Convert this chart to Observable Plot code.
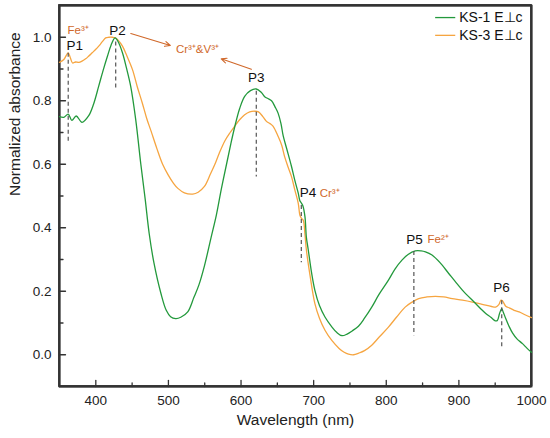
<!DOCTYPE html>
<html>
<head>
<meta charset="utf-8">
<script src="https://cdn.jsdelivr.net/npm/d3@7"></script>
<script src="https://cdn.jsdelivr.net/npm/@observablehq/plot@0.6"></script>
<style>
  html, body { margin: 0; padding: 0; background: #fff; }
  #chart { width: 550px; height: 438px; }
</style>
</head>
<body>
<div id="chart"></div>
<script>
// ---- data ----
const ks1Wavelength = [350,356,362,367,373,381,390,397,404,410,416,421,426.5,431,436.7,442,448,455,462,468,473.5,480,489.7,497,503,510,517,526.6,535,542,549.6,558.8,566,572.7,580,586,591,598,605,613,621,628,633,637,642,647,651,655,658,663,669.5,674,678.8,681,683,685,688,690,692.6,697,701.7,708,715.6,725,732,739,746,753,761.7,770,780,790,803,812,821.6,830,840,848,854,863,874,886,897,907,921,930,937,944,950,953,956,959,961,964.5,969,974,980,987.6,994,1000];
const ks1Absorb = [0.75,0.748,0.758,0.738,0.752,0.732,0.752,0.79,0.846,0.895,0.94,0.975,0.998,0.985,0.951,0.905,0.846,0.74,0.6,0.49,0.382,0.29,0.193,0.14,0.12,0.114,0.118,0.135,0.18,0.22,0.28,0.37,0.44,0.52,0.6,0.665,0.715,0.775,0.814,0.832,0.837,0.826,0.812,0.807,0.8,0.78,0.761,0.728,0.69,0.648,0.593,0.55,0.509,0.485,0.478,0.47,0.435,0.37,0.33,0.26,0.203,0.155,0.119,0.088,0.07,0.06,0.065,0.075,0.09,0.115,0.15,0.19,0.235,0.27,0.298,0.316,0.327,0.327,0.324,0.314,0.29,0.256,0.225,0.198,0.166,0.145,0.13,0.118,0.107,0.108,0.13,0.145,0.135,0.114,0.09,0.068,0.05,0.035,0.02,0.008];

const ks3Wavelength = [350,356,362,365,368,372,376.7,381,386,390,395,400,404,409,413.6,418,423,427,431,436.7,443,450.5,457,464,470,476,484,492,500,507,513,522,533.5,541,549.6,558,564,570,578,585,591,598,605,612,618.7,624,630,635,640,644,651,656,660,665,669.5,674,678.8,681,683,685.6,688,690,695,701.7,708,715.6,725,735,742,748,755,762,770,780,790,803,814,826,835,844.7,856,867.7,879,890.8,905,918.5,928,936.9,945,950.7,955,958,960,964.5,970,976,983,991,1000];
const ks3Absorb = [0.921,0.93,0.951,0.935,0.919,0.922,0.921,0.925,0.932,0.94,0.951,0.962,0.972,0.986,0.998,1.0,1.0,0.998,0.99,0.972,0.94,0.898,0.845,0.793,0.745,0.705,0.65,0.6,0.565,0.54,0.524,0.51,0.506,0.512,0.53,0.57,0.6,0.635,0.675,0.7,0.719,0.74,0.756,0.765,0.767,0.765,0.75,0.735,0.728,0.72,0.688,0.66,0.624,0.59,0.561,0.52,0.477,0.44,0.43,0.424,0.38,0.33,0.25,0.161,0.115,0.077,0.045,0.02,0.008,0.002,0.0,0.005,0.013,0.03,0.055,0.087,0.118,0.15,0.165,0.177,0.182,0.184,0.182,0.177,0.172,0.166,0.161,0.156,0.152,0.15,0.158,0.172,0.17,0.153,0.147,0.14,0.135,0.126,0.117];

const seriesNames = ["KS-1 E\u22a5c", "KS-3 E\u22a5c"];
const seriesColors = ["#23993c", "#f6a540"];

const xDomain = [350, 1000];
const yDomain = [-0.1, 1.1];
const xTicks = [400,500,600,700,800,900,1000];
const xMinorTicks = [450,550,650,750,850,950];
const yTicks = [0.0,0.2,0.4,0.6,0.8,1.0];
const yMinorTicks = [0.1,0.3,0.5,0.7,0.9];

// peak markers (dashed guides)
const peakNames = ["P1","P2","P3","P4","P5","P6"];
const peakX   = [362, 427.4, 621, 683, 838, 959];
const peakTop = [0.95, 0.985, 0.83, 0.47, 0.325, 0.17];
const peakBot = [0.67, 0.835, 0.56, 0.29, 0.06, 0.025];
const peakLabelX = [371, 429.8, 621, 692.3, 838.9, 958.6];
const peakLabelY = [0.974, 1.021, 0.873, 0.51, 0.364, 0.21];

// ion annotations
const ionText = ["Fe\u00b3\u207a", "Cr\u00b3\u207a&V\u00b3\u207a", "Cr\u00b3\u207a", "Fe\u00b2\u207a"];
const ionX = [375.6, 540, 722, 871.4];
const ionY = [1.021, 0.961, 0.51, 0.364];

// arrows toward the Cr/V label
const arrowX1 = [448.2, 614.2];
const arrowY1 = [1.012, 0.899];
const arrowX2 = [502.6, 572.7];
const arrowY2 = [0.974, 0.932];

// legend placement (data units)
const legendX1 = [867.3, 867.3];
const legendX2 = [895, 895];
const legendY  = [1.062, 1.006];
const legendTextX = [900.5, 900.5];

// ---- build tables ----
const ks1 = ks1Wavelength.map((w, i) => ({w, a: ks1Absorb[i]}));
const ks3 = ks3Wavelength.map((w, i) => ({w, a: ks3Absorb[i]}));
const peaks = peakNames.map((n, i) => ({n, x: peakX[i], y1: peakTop[i], y2: peakBot[i], lx: peakLabelX[i], ly: peakLabelY[i]}));
const ions = ionText.map((t, i) => ({t, x: ionX[i], y: ionY[i]}));
const arrows = arrowX1.map((x1, i) => ({x1, y1: arrowY1[i], x2: arrowX2[i], y2: arrowY2[i]}));
const legend = seriesNames.map((n, i) => ({n, x1: legendX1[i], x2: legendX2[i], y: legendY[i], tx: legendTextX[i], c: seriesColors[i]}));
const box = [{x1: xDomain[0], x2: xDomain[1], y1: yDomain[0], y2: yDomain[1]}];

const annColor = "#d0682a";
const axisColor = "#333";
// inward tick shape
const tickShape = {draw(context, l) { context.moveTo(0, 0); context.lineTo(0, -l); }};

const chart = Plot.plot({
  width: 550,
  height: 438,
  marginLeft: 59,
  marginRight: 19,
  marginTop: 5,
  marginBottom: 52,
  style: {fontFamily: "'Liberation Sans', Arial, sans-serif", background: "#fff"},
  x: {domain: xDomain},
  y: {domain: yDomain},
  marks: [
    // box frame (drawn several ways from the domain) and inward ticks
    Plot.rect(box, {x1: "x1", x2: "x2", y1: "y1", y2: "y2", fill: "none", stroke: axisColor, strokeWidth: 1.8}),
    Plot.ruleX(xDomain, {x: d => d, y1: yDomain[0], y2: yDomain[1], stroke: axisColor, strokeWidth: 1.8}),
    Plot.ruleY(yDomain, {y: d => d, x1: xDomain[0], x2: xDomain[1], stroke: axisColor, strokeWidth: 1.8}),
    Plot.frame({stroke: axisColor, strokeWidth: 1.8}),
    Plot.vector(xTicks, {x: d => d, frameAnchor: "bottom", length: 6, anchor: "start", shape: tickShape, stroke: axisColor, strokeWidth: 1.3}),
    Plot.vector(xMinorTicks, {x: d => d, frameAnchor: "bottom", length: 3.5, anchor: "start", shape: tickShape, stroke: axisColor, strokeWidth: 1.3}),
    Plot.vector(yTicks, {y: d => d, frameAnchor: "left", rotate: 90, length: 6, anchor: "start", shape: tickShape, stroke: axisColor, strokeWidth: 1.3}),
    Plot.vector(yMinorTicks, {y: d => d, frameAnchor: "left", rotate: 90, length: 3.5, anchor: "start", shape: tickShape, stroke: axisColor, strokeWidth: 1.3}),
    // curves
    Plot.line(ks3, {x: "w", y: "a", stroke: seriesColors[1], strokeWidth: 1.3, curve: "catmull-rom"}),
    Plot.line(ks1, {x: "w", y: "a", stroke: seriesColors[0], strokeWidth: 1.3, curve: "catmull-rom"}),
    // dashed peak guides
    Plot.ruleX(peaks, {x: "x", y1: "y1", y2: "y2", stroke: "#555", strokeWidth: 1.2, strokeDasharray: "4,3"}),
    Plot.text(peaks, {x: "lx", y: "ly", text: "n", fontSize: 13.5, fill: "#111"}),
    Plot.text(ions, {x: "x", y: "y", text: "t", fontSize: 11.5, fill: annColor}),
    Plot.arrow(arrows, {x1: "x1", y1: "y1", x2: "x2", y2: "y2", stroke: annColor, strokeWidth: 1.1, headLength: 8, headAngle: 50}),
    // legend
    Plot.link(legend, {x1: "x1", x2: "x2", y1: "y", y2: "y", stroke: "c", strokeWidth: 1.3}),
    Plot.text(legend, {x: "tx", y: "y", text: "n", textAnchor: "start", fontSize: 14, fill: "#111"}),
    // tick labels
    Plot.axisX(xTicks, {tickSize: 0, tickPadding: 9, tickFormat: d => String(d), fontSize: 13.5, fill: "#222", label: null}),
    Plot.axisY(yTicks, {tickSize: 0, tickPadding: 8, tickFormat: d3.format(".1f"), fontSize: 13.5, fill: "#222", label: null}),
    Plot.text(["Wavelength (nm)"], {frameAnchor: "bottom", dy: 38, fontSize: 15.5, fill: "#222"}),
    Plot.text(["Normalized absorbance"], {frameAnchor: "left", dx: -44, rotate: -90, fontSize: 15.5, fill: "#222"})
  ]
});
document.getElementById("chart").appendChild(chart);
</script>
</body>
</html>
